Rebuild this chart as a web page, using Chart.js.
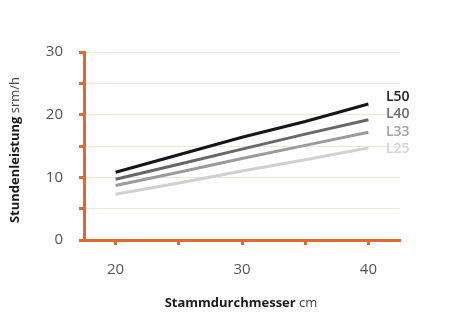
<!DOCTYPE html>
<html>
<head>
<meta charset="utf-8">
<script src="https://cdn.jsdelivr.net/npm/chart.js@4/dist/chart.umd.min.js"></script>
<style>
  html, body { margin: 0; padding: 0; background: #fff; }
  #wrap { width: 460px; height: 320px; }
</style>
</head>
<body>
<div id="wrap"><canvas id="chartCanvas"></canvas></div>
<script>
// Daten
const diameters = [20, 25, 30, 35, 40];
const seriesNames = ['L50', 'L40', 'L33', 'L25'];
const valuesL50 = [10.8, 13.6, 16.4, 18.9, 21.7];
const valuesL40 = [9.7, 12.1, 14.5, 16.9, 19.2];
const valuesL33 = [8.7, 10.8, 13.0, 15.1, 17.2];
const valuesL25 = [7.3, 9.1, 11.0, 12.8, 14.7];
const xTicks = [20, 25, 30, 35, 40];
const xLabelTicks = [20, 30, 40];
const yLabelTicks = [0, 10, 20, 30];

const orange = '#e2692b';
const lineColors = ['#161616', '#676767', '#9b9b9b', '#d0d0d0'];
const labelColors = ['#222222', '#6e6e6e', '#a3a3a3', '#d3d3d3'];
const allValues = [valuesL50, valuesL40, valuesL33, valuesL25];

// Titel mit fett + normal, und Linienbeschriftung rechts
const extrasPlugin = {
  id: 'extras',
  afterDraw(chart) {
    const ctx = chart.ctx;
    ctx.save();
    ctx.textBaseline = 'middle';

    // Serienlabels
    ctx.textAlign = 'left';
    ctx.font = '600 14px "Open Sans"';
    seriesNames.forEach((name, i) => {
      ctx.fillStyle = labelColors[i];
      ctx.fillText(name, 386, 97 + i * 17.5);
    });

    // fett + normal nebeneinander, zentriert
    const drawMixed = (bold, light) => {
      ctx.font = 'bold 13px "Open Sans"';
      const w1 = ctx.measureText(bold).width;
      ctx.font = '13px "Open Sans"';
      const w2 = ctx.measureText(light).width;
      const start = -(w1 + w2) / 2;
      ctx.textAlign = 'left';
      ctx.fillStyle = '#1a1a1a';
      ctx.font = 'bold 13px "Open Sans"';
      ctx.fillText(bold, start, 0);
      ctx.fillStyle = '#444';
      ctx.font = '13px "Open Sans"';
      ctx.fillText(light, start + w1, 0);
    };
    ctx.save();
    ctx.translate(241, 303);
    drawMixed('Stammdurchmesser', ' cm');
    ctx.restore();

    ctx.save();
    ctx.translate(15, 150);
    ctx.rotate(-Math.PI / 2);
    drawMixed('Stundenleistung', ' srm/h');
    ctx.restore();

    ctx.restore();
  }
};

const ctx = document.getElementById('chartCanvas').getContext('2d');
new Chart(ctx, {
  type: 'line',
  data: {
    datasets: seriesNames.map((name, i) => ({
      label: name,
      data: diameters.map((d, j) => ({ x: d, y: allValues[i][j] })),
      borderColor: lineColors[i],
      borderWidth: 3,
      pointRadius: 0,
      tension: 0,
      fill: false
    }))
  },
  options: {
    responsive: true,
    maintainAspectRatio: false,
    animation: false,
    layout: {
      padding: { left: 0, top: 52, right: 60, bottom: 0 }
    },
    scales: {
      x: {
        type: 'linear',
        min: 17.5,
        max: 42.5,
        afterBuildTicks: scale => {
          scale.ticks = xTicks.map(v => ({ value: v }));
        },
        afterFit: scale => { scale.height = 80; },
        border: { color: orange, width: 3 },
        grid: {
          drawOnChartArea: false,
          drawTicks: true,
          tickLength: 5,
          tickColor: orange,
          tickWidth: 3
        },
        ticks: {
          padding: 16,
          color: '#555',
          font: { family: 'Open Sans', size: 15 },
          callback: function(value) {
            return xLabelTicks.includes(value) ? String(value) : '';
          }
        }
      },
      y: {
        min: 0,
        max: 30,
        afterFit: scale => { scale.width = 84; },
        border: { color: orange, width: 3 },
        grid: {
          color: '#f4e4d4',
          lineWidth: 1,
          drawTicks: true,
          tickLength: 5,
          tickColor: orange,
          tickWidth: 3
        },
        ticks: {
          stepSize: 5,
          padding: 16,
          color: '#555',
          font: { family: 'Open Sans', size: 15 },
          callback: function(value) {
            return yLabelTicks.includes(value) ? String(value) : '';
          }
        }
      }
    },
    plugins: {
      legend: { display: false },
      tooltip: { enabled: false }
    }
  },
  plugins: [extrasPlugin]
});
</script>
</body>
</html>
